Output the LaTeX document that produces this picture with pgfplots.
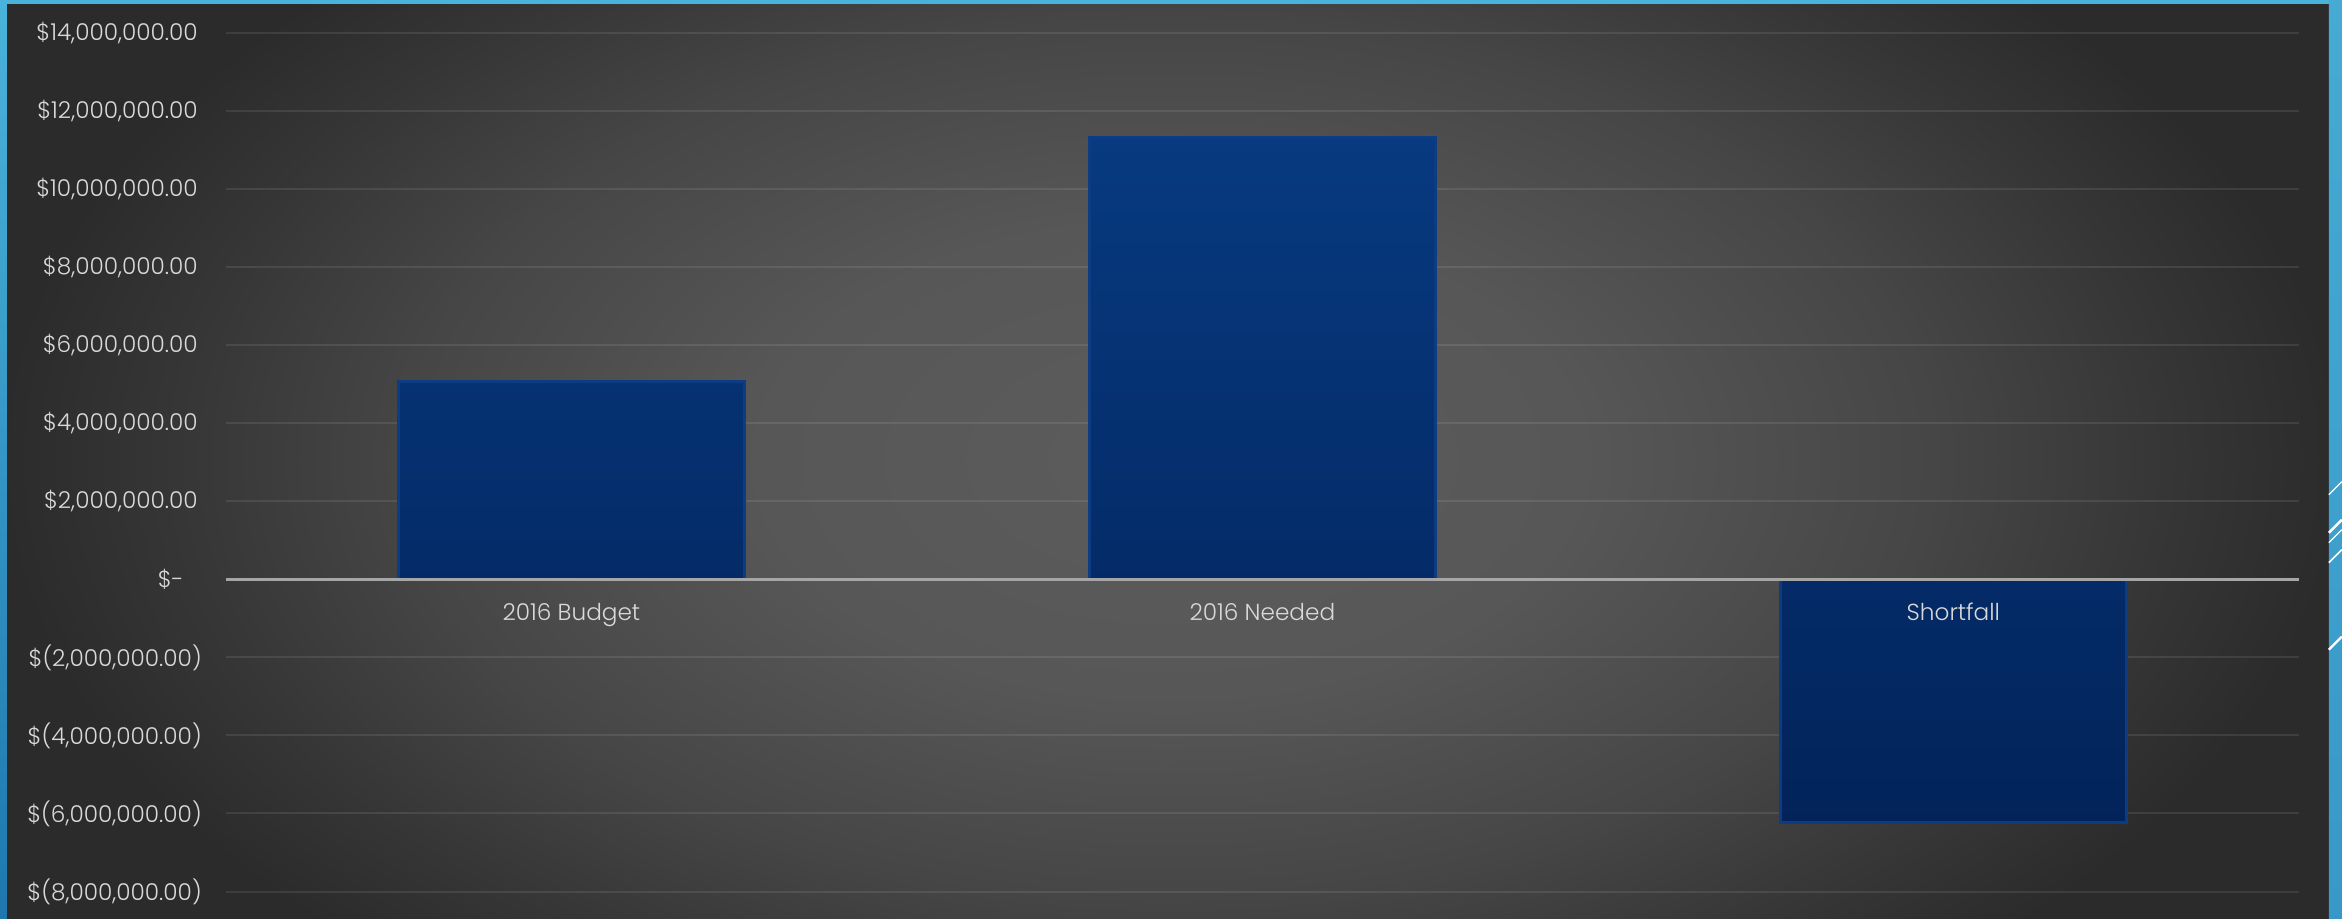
\documentclass[border=0pt]{standalone}
\usepackage{fontspec}
\setmainfont{Poppins}[UprightFont={* Light}]
\usepackage{pgfplots}
\pgfplotsset{compat=1.18}
\definecolor{frametop}{HTML}{4AB3DA}
\definecolor{framebot}{HTML}{1E78AE}
\definecolor{rframetop}{HTML}{46AAD4}
\definecolor{rframebot}{HTML}{3898C8}
\definecolor{bartop}{HTML}{073A80}
\definecolor{barbot}{HTML}{02235A}
\definecolor{barline}{HTML}{0D3C82}
\definecolor{zeroline}{HTML}{A6A6A6}
\definecolor{labelc}{HTML}{D9D9D9}
\definecolor{bg0}{HTML}{5C5C5C}
\definecolor{bg1}{HTML}{575757}
\definecolor{bg2}{HTML}{464646}
\definecolor{bg3}{HTML}{363636}
\definecolor{bg4}{HTML}{2B2B2B}
% 25bp of the shading reaches the edge of the shaded path
\pgfdeclareradialshading{bgshade}{\pgfpoint{0bp}{0bp}}{%
  color(0bp)=(bg0); color(8.75bp)=(bg1); color(16.25bp)=(bg2);
  color(21.25bp)=(bg3); color(25bp)=(bg4); color(50bp)=(bg4)}
\newcommand{\padr}[1]{\rule{#1}{0pt}}
\pgfplotsset{
  chartaxis/.style={
    at={(56.5pt,6.75pt)}, anchor=south west,
    scale only axis, width=518.5pt, height=214.75pt,
    xmin=-0.5, xmax=2.5,
    ymin=-8000000, ymax=14000000,
    major tick length=0pt,
    ticklabel style={font=\fontsize{5.8pt}{7pt}\selectfont, text=labelc},
  },
}
\begin{document}
\begin{tikzpicture}
% background and frame (1 px = 0.25pt)
\begin{scope}
  \clip (0,0) rectangle (585.75pt,229.75pt);
  \shade[shading=bgshade] (0,-53.9pt) rectangle (585.75pt,283.6pt);
\end{scope}
\shade[top color=frametop, bottom color=framebot] (0,0) rectangle (1.75pt,229.75pt);
\fill[frametop] (0,228.75pt) rectangle (585.75pt,229.75pt);
\shade[top color=rframetop, bottom color=rframebot] (582.5pt,0) rectangle (585.75pt,229.75pt);
\begin{scope}[white]
  \draw[line width=0.3pt] (582.5pt,106pt) -- (585.75pt,109.25pt);
  \draw[line width=0.6pt] (582.5pt,96.5pt) -- (585.75pt,99.75pt);
  \draw[line width=0.3pt] (582.5pt,94pt) -- (585.75pt,97.25pt);
  \draw[line width=0.4pt] (582.5pt,89pt) -- (585.75pt,92.25pt);
  \draw[line width=0.6pt] (582.5pt,67.25pt) -- (585.75pt,70.5pt);
\end{scope}
% grid, y labels and bars
\begin{axis}[
  chartaxis,
  axis lines=left,
  axis line style={draw=none},
  xtick=\empty,
  scaled y ticks=false,
  ytick={-8000000,-6000000,-4000000,-2000000,0,2000000,4000000,6000000,8000000,10000000,12000000,14000000},
  yticklabels={{\$(8,000,000.00)},{\$(6,000,000.00)},{\$(4,000,000.00)},{\$(2,000,000.00)},{\$-\padr{4.5pt}},
    {\$2,000,000.00\padr{1pt}},{\$4,000,000.00\padr{1pt}},{\$6,000,000.00\padr{1pt}},
    {\$8,000,000.00\padr{1pt}},{\$10,000,000.00\padr{1pt}},
    {\$12,000,000.00\padr{1pt}},{\$14,000,000.00\padr{1pt}}},
  yticklabel style={xshift=-2.5pt},
  ymajorgrids,
  grid style={white, opacity=0.09, line width=0.5pt},
]
\addplot[ybar, bar width=0.5, draw=barline, line width=0.8pt,
  top color=bartop, bottom color=barbot]
  coordinates {(0,5070000) (1,11320000) (2,-6230000)};
\end{axis}
% zero line and category labels on top
\begin{axis}[
  chartaxis,
  axis x line*=middle,
  axis y line=none,
  x axis line style={draw=zeroline, line width=0.75pt, -},
  ytick=\empty,
  xtick={0,1,2},
  xticklabels={2016 Budget, 2016 Needed, Shortfall},
  xticklabel style={yshift=-2.5pt},
]
\end{axis}
\end{tikzpicture}
\end{document}
